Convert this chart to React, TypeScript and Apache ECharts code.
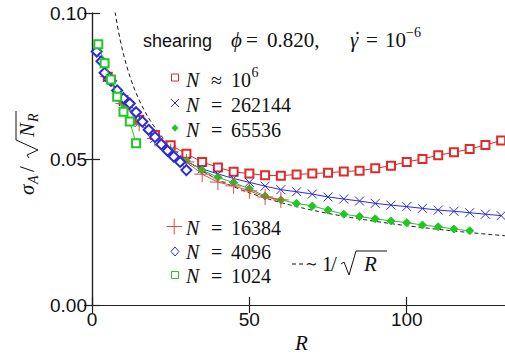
import React, { useEffect, useRef } from 'react';
import * as echarts from 'echarts';

// ---- data ---------------------------------------------------------------
const R_1E6 = [5, 10, 15, 20, 25, 30, 35, 40, 45, 50, 55, 60, 65, 70, 75, 80, 85, 90, 95, 100, 105, 110, 115, 120, 125, 130];
const S_1E6 = [0.0782, 0.0702, 0.0634, 0.0582, 0.0547, 0.0518, 0.049, 0.0471, 0.0456, 0.045, 0.0444, 0.0443, 0.0447, 0.045, 0.0453, 0.0457, 0.046, 0.0468, 0.0477, 0.049, 0.05, 0.0513, 0.0523, 0.0534, 0.0548, 0.0563];

const R_262144 = [5, 10, 15, 20, 25, 30, 35, 40, 45, 50, 55, 60, 65, 70, 75, 80, 85, 90, 95, 100, 105, 110, 115, 120, 125, 130];
const S_262144 = [0.078, 0.0697, 0.0625, 0.0571, 0.0531, 0.0491, 0.0466, 0.0449, 0.0433, 0.042, 0.0407, 0.0395, 0.0388, 0.038, 0.037, 0.0363, 0.0356, 0.0348, 0.0342, 0.0337, 0.0331, 0.0325, 0.0321, 0.0316, 0.0311, 0.0306];

const R_65536 = [5, 10, 15, 20, 25, 30, 35, 40, 45, 50, 55, 60, 65, 70, 75, 80, 85, 90, 95, 100, 105, 110, 115, 120];
const S_65536 = [0.0778, 0.069, 0.0625, 0.0574, 0.0528, 0.0494, 0.0462, 0.0437, 0.0419, 0.0398, 0.0373, 0.036, 0.0348, 0.0339, 0.0325, 0.0311, 0.0303, 0.0295, 0.0288, 0.0282, 0.0274, 0.0268, 0.026, 0.0254];

const R_16384 = [5, 10, 15, 20, 25, 30, 35, 40, 45, 50, 55, 60];
const S_16384 = [0.0782, 0.069, 0.0622, 0.057, 0.0525, 0.049, 0.0448, 0.0421, 0.0408, 0.0391, 0.037, 0.036];

const R_4096 = [1.5, 3, 4, 6, 8, 10, 12, 14, 16, 18, 20, 22, 24, 26, 28, 30];
const S_4096 = [0.0868, 0.0835, 0.0795, 0.0768, 0.0735, 0.0708, 0.069, 0.066, 0.0628, 0.06, 0.0575, 0.055, 0.0528, 0.0508, 0.049, 0.0462];

const R_1024 = [2, 4, 6, 8, 10, 12, 14];
const S_1024 = [0.0893, 0.0828, 0.0772, 0.0713, 0.0662, 0.0628, 0.0554];

// reference slope ~ C / sqrt(R)
const GUIDE_C = 0.2717;
const GUIDE_R_START = 7;
const GUIDE_R_END = 133;

const X_TICKS = [0, 50, 100];
const Y_TICKS = [0, 0.05, 0.1];

// ---- styling ------------------------------------------------------------
const RED = '#e02a2a';
const RED_PLUS = '#e34848';
const BLUE = '#2b2bdc';
const GREEN = '#1fc81f';
const INK = '#111';
const SERIF = 'Liberation Serif';
const SANS = 'Liberation Sans';

const CROSS = 'path://M0,0L10,10M10,0L0,10';
const PLUS = 'path://M5,0L5,10M0,5L10,5';

function pairs(r: number[], s: number[]) {
  return r.map((x, i) => [x, s[i]]);
}

function guideCurve() {
  const pts: number[][] = [];
  for (let r = GUIDE_R_START; r <= GUIDE_R_END; r += 0.5) pts.push([r, GUIDE_C / Math.sqrt(r)]);
  return pts;
}

function marked(name: string, r: number[], s: number[], color: string, symbol: string, size: number, z: number) {
  return {
    type: 'line',
    name,
    data: pairs(r, s),
    symbol,
    symbolSize: size,
    showSymbol: true,
    silent: true,
    z,
    lineStyle: { color, width: 1 },
    itemStyle: { color, borderColor: color, borderWidth: 1 },
  };
}

// text placed by its baseline
function T(text: string, x: number, base: number, size: number, italic = false, family = SERIF, fill = INK) {
  return {
    type: 'text',
    x,
    y: base - 0.34 * size,
    silent: true,
    style: {
      text,
      fontSize: size,
      fontFamily: family,
      fontStyle: italic ? 'italic' : 'normal',
      fill,
      align: 'left',
      verticalAlign: 'middle',
      textAlign: 'left',
      textVerticalAlign: 'middle',
    },
  };
}

function seg(x1: number, y1: number, x2: number, y2: number, stroke: string, lineWidth = 1, lineDash?: number[]) {
  return {
    type: 'line',
    silent: true,
    shape: { x1, y1, x2, y2 },
    style: { stroke, lineWidth, lineDash },
  };
}

function poly(points: number[][], stroke: string, lineWidth = 1) {
  return { type: 'polyline', silent: true, shape: { points }, style: { stroke, lineWidth, fill: 'none' } };
}

// legend row: marker + "N = value"
function legendRow(base: number, rel: string, value: string, marker: any[], sup?: string) {
  const items: any[] = [...marker, T('N', 186, base, 20, true), T(rel, 211, base, 20), T(value, 231, base, 20)];
  if (sup) items.push(T(sup, 251.5, base - 9, 14));
  return items;
}

function buildGraphic() {
  const g: any[] = [];
  // title line
  g.push(T('shearing', 143, 47, 18, false, SANS));
  g.push(T('\u03d5', 231, 47, 21, true));
  g.push(T('=', 246, 47, 21));
  g.push(T('0.820,', 267, 47, 21));
  g.push(T('\u03b3', 350, 47, 21, true));
  g.push({ type: 'circle', silent: true, shape: { cx: 357.5, cy: 33, r: 1.2 }, style: { fill: INK } });
  g.push(T('=', 366, 47, 21));
  g.push(T('10', 385, 47, 21));
  g.push(T('\u22126', 406, 37, 14));

  // upper legend
  let y = 86.5;
  g.push(...legendRow(y, '\u2248', '10', [{ type: 'rect', silent: true, shape: { x: 171.5, y: y - 12.5, width: 7, height: 7 }, style: { fill: 'none', stroke: RED, lineWidth: 1 } }], '6'));
  y = 112;
  g.push(...legendRow(y, '=', '262144', [seg(171, y - 13, 179, y - 5, BLUE), seg(179, y - 13, 171, y - 5, BLUE)]));
  y = 137;
  g.push(...legendRow(y, '=', '65536', [{ type: 'polygon', silent: true, shape: { points: [[175, y - 12.7], [178.5, y - 9], [175, y - 5.3], [171.5, y - 9]] }, style: { fill: GREEN } }]));

  // lower legend
  y = 235;
  g.push(...legendRow(y, '=', '16384', [seg(166.5, y - 8.5, 182, y - 8.5, RED_PLUS), seg(174.2, y - 16.5, 174.2, y - 0.5, RED_PLUS)]));
  y = 259;
  g.push(...legendRow(y, '=', '4096', [{ type: 'polygon', silent: true, shape: { points: [[175, y - 12], [179, y - 7.5], [175, y - 3], [171, y - 7.5]] }, style: { fill: 'none', stroke: BLUE, lineWidth: 1 } }]));
  y = 283;
  g.push(...legendRow(y, '=', '1024', [{ type: 'rect', silent: true, shape: { x: 171.5, y: y - 11.5, width: 7, height: 7 }, style: { fill: 'none', stroke: GREEN, lineWidth: 1 } }]));

  // guide legend: -- ~ 1/sqrt(R)
  g.push(seg(292, 264, 304, 264, INK, 1, [4, 3]));
  g.push(T('\u223c', 305, 269, 15, false, 'DejaVu Serif'));
  g.push(T('1', 322, 271, 21));
  g.push(T('/', 331, 271, 21));
  g.push(poly([[341, 264], [344, 262], [349, 275], [356, 251], [387, 251]], INK, 1));
  g.push(T('R', 364, 271, 21, true));

  // x axis title
  g.push(T('R', 295, 350, 21, true));

  // y axis title, rotated to read bottom-to-top
  g.push({
    type: 'group',
    x: 34,
    y: 195,
    rotation: Math.PI / 2,
    silent: true,
    children: [
      T('\u03c3', 0, 0, 21, true),
      T('A', 11, 4, 14, true),
      T('/', 23, 0, 21),
      poly([[37, -5], [40, -7], [45, 4], [55, -18], [84, -18]], INK, 1),
      T('N', 58, 0, 21, true),
      T('R', 73, 4, 14, true),
    ],
  });
  return g;
}

const axisLine = { show: true, lineStyle: { color: '#222', width: 1.2 } };
const innerTick = { show: true, inside: true, length: 8, lineStyle: { color: '#222', width: 1.2 } };

const option: any = {
  animation: false,
  backgroundColor: '#fff',
  grid: { left: 92, top: 13, right: 9.4, bottom: 53, containLabel: false },
  xAxis: [
    {
      type: 'value',
      min: 0,
      max: 133,
      interval: 50,
      axisLine,
      axisTick: innerTick,
      splitLine: { show: false },
      axisLabel: {
        show: true,
        margin: 5,
        fontSize: 19,
        fontFamily: SANS,
        color: INK,
        showMaxLabel: false,
        formatter: (v: number) => (X_TICKS.includes(v) ? String(v) : ''),
      },
    },
    {
      type: 'value',
      position: 'top',
      min: 0,
      max: 133,
      interval: 50,
      axisLine,
      axisTick: innerTick,
      splitLine: { show: false },
      axisLabel: { show: false },
    },
  ],
  yAxis: [
    {
      type: 'value',
      min: 0,
      max: 0.1,
      interval: 0.05,
      axisLine,
      axisTick: innerTick,
      splitLine: { show: false },
      axisLabel: {
        margin: 5,
        fontSize: 19,
        fontFamily: SANS,
        color: INK,
        formatter: (v: number) => (Y_TICKS.some((t) => Math.abs(t - v) < 1e-9) ? v.toFixed(2) : ''),
      },
    },
    {
      type: 'value',
      position: 'right',
      min: 0,
      max: 0.1,
      interval: 0.05,
      axisLine,
      axisTick: innerTick,
      splitLine: { show: false },
      axisLabel: { show: false },
    },
  ],
  series: [
    {
      type: 'line',
      name: 'guide',
      data: guideCurve(),
      symbol: 'none',
      silent: true,
      z: 1,
      lineStyle: { color: INK, width: 1, type: [4, 3] },
    },
    marked('N=1e6', R_1E6, S_1E6, RED, 'emptyRect', 8, 3),
    marked('N=262144', R_262144, S_262144, BLUE, CROSS, 9, 4),
    marked('N=65536', R_65536, S_65536, GREEN, 'diamond', 8, 5),
    marked('N=16384', R_16384, S_16384, RED_PLUS, PLUS, 16, 6),
    marked('N=4096', R_4096, S_4096, BLUE, 'emptyDiamond', 10, 7),
    marked('N=1024', R_1024, S_1024, GREEN, 'emptyRect', 8, 8),
  ],
  graphic: buildGraphic(),
};

export default function App() {
  const ref = useRef<HTMLDivElement>(null);
  useEffect(() => {
    const chart = echarts.init(ref.current!, null, { renderer: 'svg' });
    chart.setOption(option);
    return () => chart.dispose();
  }, []);
  return (
    <div style={{ position: 'fixed', left: 0, top: 0, width: 505, height: 358, overflow: 'hidden', background: '#fff' }}>
      <div ref={ref} style={{ width: 520, height: 358 }} />
    </div>
  );
}
